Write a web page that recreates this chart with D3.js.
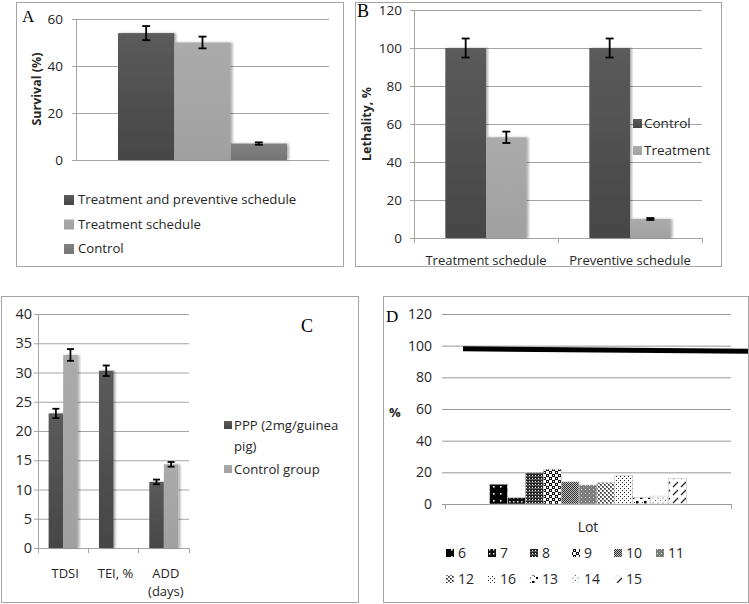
<!DOCTYPE html>
<html>
<head>
<meta charset="utf-8">
<script src="https://cdn.jsdelivr.net/npm/d3@7"></script>
<style>
body { margin: 0; background: #fff; }
text { font-family: "Open Sans", sans-serif; fill: #262626; }
</style>
</head>
<body>
<script>
// ---- data ----
// A
var aSeries = ["Treatment and preventive schedule", "Treatment schedule", "Control"];
var aValues = [54, 50, 7];
var aErrors = [3, 2.5, 0.5];
var aTicks = [0, 20, 40, 60];
// B
var bCategories = ["Treatment schedule", "Preventive schedule"];
var bSeries = ["Control", "Treatment"];
var bControl = [100, 100];
var bControlErr = [5, 5];
var bTreatment = [53, 10];
var bTreatmentErr = [3, 0.5];
var bTicks = [0, 20, 40, 60, 80, 100, 120];
// C
var cCategories = [["TDSI"], ["TEI, %"], ["ADD", "(days)"]];
var cSeries = [["PPP (2mg/guinea", "pig)"], ["Control group"]];
var cPPP = [23, 30.3, 11.3];
var cPPPErr = [0.8, 0.9, 0.4];
var cControl = [33, 0, 14.3];
var cControlErr = [1, 0, 0.4];
var cTicks = [0, 5, 10, 15, 20, 25, 30, 35, 40];
// D
var dLots = ["6", "7", "8", "9", "10", "11", "12", "16", "13", "14", "15"];
var dValues = [12.5, 4, 20, 22, 14, 12, 13.5, 18, 4, 5, 16];
var dLine = [98, 96.5];
var dTicks = [0, 20, 40, 60, 80, 100, 120];

var svg = d3.select("body").append("svg")
    .attr("width", 749)
    .attr("height", 604);
var defs = svg.append("defs");

// soft shadow for the bars (Excel look)
var shadow = defs.append("filter").attr("id", "shadow")
    .attr("x", "-10%").attr("y", "-10%").attr("width", "130%").attr("height", "120%");
shadow.append("feDropShadow")
    .attr("dx", 2).attr("dy", 0).attr("stdDeviation", 1.2)
    .attr("flood-color", "#000").attr("flood-opacity", 0.3);

function addGradient(id, top, bottom) {
    var g = defs.append("linearGradient").attr("id", id)
        .attr("x1", 0).attr("y1", 0).attr("x2", 0).attr("y2", 1);
    g.append("stop").attr("offset", "0%").attr("stop-color", top);
    g.append("stop").attr("offset", "100%").attr("stop-color", bottom);
    return "url(#" + id + ")";
}
var darkFill = addGradient("gDark", "#5b5b5b", "#464646");
var lightFill = addGradient("gLight", "#ababab", "#a0a0a0");
var midFill = addGradient("gMid", "#828282", "#747474");

function panelBox(x, y, w, h) {
    svg.append("rect")
        .attr("x", x + 0.5).attr("y", y + 0.5)
        .attr("width", w).attr("height", h)
        .attr("fill", "none")
        .attr("stroke", "#a5a5a5");
}

function panelLetter(txt, x, y, size) {
    svg.append("text")
        .attr("x", x).attr("y", y)
        .style("font-family", "'Liberation Serif', serif")
        .style("font-size", size + "px")
        .style("fill", "#000")
        .text(txt);
}

// y gridlines + labels; left = axis x, right = end of gridlines
function yAxisGrid(yScale, ticks, left, right, fontSize, pad, vertLine) {
    var g = svg.append("g")
        .attr("transform", "translate(" + left + ",0)")
        .call(d3.axisLeft(yScale).tickValues(ticks).tickSize(-(right - left)).tickSizeOuter(0).tickPadding(pad));
    g.select(".domain").remove();
    g.selectAll(".tick line")
        .attr("x1", -4)
        .attr("stroke", "#a5a5a5");
    g.selectAll(".tick text")
        .style("font-size", fontSize + "px")
        .style("font-family", "'Open Sans', sans-serif")
        .attr("fill", "#262626");
    if (vertLine) {
        svg.append("line")
            .attr("x1", left + 0.5).attr("x2", left + 0.5)
            .attr("y1", yScale(ticks[ticks.length - 1])).attr("y2", yScale(0))
            .attr("stroke", "#a5a5a5");
    }
    return g;
}

function xBaseTicks(positions, y) {
    svg.selectAll(null).data(positions).enter().append("line")
        .attr("x1", function (d) { return d + 0.5; })
        .attr("x2", function (d) { return d + 0.5; })
        .attr("y1", y).attr("y2", y + 5)
        .attr("stroke", "#a5a5a5");
}

function errorBar(x, yTop, yBot, cap) {
    var g = svg.append("g").attr("stroke", "#000").attr("stroke-width", 1.8);
    g.append("line").attr("x1", x).attr("x2", x).attr("y1", yTop).attr("y2", yBot);
    g.append("line").attr("x1", x - cap).attr("x2", x + cap).attr("y1", yTop).attr("y2", yTop);
    g.append("line").attr("x1", x - cap).attr("x2", x + cap).attr("y1", yBot).attr("y2", yBot);
}

// ================= Panel A =================
function drawA() {
    panelBox(16, 2, 327, 264);
    var y = d3.scaleLinear().domain([0, 60]).range([160, 19]);
    var x = d3.scaleBand().domain(aSeries).range([76, 329]).paddingOuter(0.745).paddingInner(0);
    yAxisGrid(y, aTicks, 76, 329, 13.5, 13, true);
    var fills = [darkFill, lightFill, midFill];

    svg.append("g").selectAll("rect").data(aValues).enter().append("rect")
        .attr("x", function (d, i) { return x(aSeries[i]); })
        .attr("y", function (d) { return y(d); })
        .attr("width", x.bandwidth())
        .attr("height", function (d) { return y(0) - y(d); })
        .attr("fill", function (d, i) { return fills[i]; })
        .attr("filter", "url(#shadow)");
    aValues.forEach(function (v, i) {
        errorBar(x(aSeries[i]) + x.bandwidth() / 2, y(v + aErrors[i]), y(v - aErrors[i]), 4);
    });

    svg.append("text")
        .attr("transform", "translate(41,89)rotate(-90)")
        .attr("text-anchor", "middle")
        .style("font-size", "12.5px")
        .style("font-weight", "bold")
        .text("Survival (%)");

    var leg = svg.append("g");
    aSeries.forEach(function (s, i) {
        leg.append("rect")
            .attr("x", 64).attr("y", 195 + i * 24.5)
            .attr("width", 10).attr("height", 10)
            .attr("fill", fills[i]);
        leg.append("text")
            .attr("x", 78).attr("y", 204 + i * 24.5)
            .style("font-size", "13.2px")
            .text(s);
    });
    panelLetter("A", 22, 22, 17);
}

// ================= Panel B =================
function drawB() {
    panelBox(355, 2, 366, 264);
    var y = d3.scaleLinear().domain([0, 120]).range([238, 10]);
    var x0 = d3.scaleBand().domain(bCategories).range([414, 702]);
    var x1 = d3.scaleBand().domain(bSeries).range([0, x0.bandwidth()]).paddingOuter(0.77).paddingInner(0);
    yAxisGrid(y, bTicks, 414, 702, 13.5, 12, true);
    svg.append("line")
        .attr("x1", 414).attr("x2", 702).attr("y1", 238.5).attr("y2", 238.5)
        .attr("stroke", "#a5a5a5");
    xBaseTicks([414, 558, 702], 238);

    var series = [
        {name: "Control", vals: bControl, errs: bControlErr, fill: darkFill},
        {name: "Treatment", vals: bTreatment, errs: bTreatmentErr, fill: lightFill}
    ];
    series.forEach(function (s) {
        svg.append("g").selectAll("rect").data(s.vals).enter().append("rect")
            .attr("x", function (d, i) { return x0(bCategories[i]) + x1(s.name); })
            .attr("y", function (d) { return y(d); })
            .attr("width", x1.bandwidth())
            .attr("height", function (d) { return y(0) - y(d); })
            .attr("fill", s.fill)
            .attr("filter", "url(#shadow)");
        s.vals.forEach(function (v, i) {
            errorBar(x0(bCategories[i]) + x1(s.name) + x1.bandwidth() / 2, y(v + s.errs[i]), y(v - s.errs[i]), 4);
        });
    });

    svg.selectAll(null).data(bCategories).enter().append("text")
        .attr("x", function (d) { return x0(d) + x0.bandwidth() / 2; })
        .attr("y", 265)
        .attr("text-anchor", "middle")
        .style("font-size", "13px")
        .text(function (d) { return d; });

    svg.append("text")
        .attr("transform", "translate(371,124)rotate(-90)")
        .attr("text-anchor", "middle")
        .style("font-size", "12.5px")
        .style("font-weight", "bold")
        .text("Lethality, %");

    series.forEach(function (s, i) {
        svg.append("rect")
            .attr("x", 633).attr("y", 119 + i * 27)
            .attr("width", 9).attr("height", 9)
            .attr("fill", s.fill);
        svg.append("text")
            .attr("x", 644).attr("y", 128 + i * 27)
            .style("font-size", "13.5px")
            .text(s.name);
    });
    panelLetter("B", 357, 17, 18);
}

// ================= Panel C =================
function drawC() {
    panelBox(1, 296, 357, 306);
    var y = d3.scaleLinear().domain([0, 40]).range([548, 314]);
    var x0 = d3.scaleBand().domain(d3.range(cCategories.length)).range([38, 189]);
    var x1 = d3.scaleBand().domain(["ppp", "ctl"]).range([0, x0.bandwidth()]).paddingOuter(0.73).paddingInner(0);
    yAxisGrid(y, cTicks, 38, 189, 14.5, 6, true);
    svg.append("line")
        .attr("x1", 38).attr("x2", 189).attr("y1", 548.5).attr("y2", 548.5)
        .attr("stroke", "#a5a5a5");
    xBaseTicks([38, 88, 138, 189], 548);

    var series = [
        {key: "ppp", vals: cPPP, errs: cPPPErr, fill: darkFill},
        {key: "ctl", vals: cControl, errs: cControlErr, fill: lightFill}
    ];
    series.forEach(function (s) {
        svg.append("g").selectAll("rect").data(s.vals).enter().append("rect")
            .attr("x", function (d, i) { return x0(i) + x1(s.key); })
            .attr("y", function (d) { return y(d); })
            .attr("width", x1.bandwidth())
            .attr("height", function (d) { return y(0) - y(d); })
            .attr("fill", s.fill)
            .attr("filter", "url(#shadow)");
        s.vals.forEach(function (v, i) {
            if (s.errs[i] > 0) {
                errorBar(x0(i) + x1(s.key) + x1.bandwidth() / 2, y(v + s.errs[i]), y(v - s.errs[i]), 3.5);
            }
        });
    });

    cCategories.forEach(function (lines, i) {
        lines.forEach(function (t, j) {
            svg.append("text")
                .attr("x", x0(i) + x0.bandwidth() / 2 + 2)
                .attr("y", 578 + j * 18)
                .attr("text-anchor", "middle")
                .style("font-size", "13px")
                .text(t);
        });
    });

    var fills = [darkFill, lightFill];
    var rowY = [430, 474];
    cSeries.forEach(function (lines, i) {
        svg.append("rect")
            .attr("x", 224).attr("y", rowY[i] - 9)
            .attr("width", 8).attr("height", 8)
            .attr("fill", fills[i]);
        lines.forEach(function (t, j) {
            svg.append("text")
                .attr("x", 234).attr("y", rowY[i] + j * 21)
                .style("font-size", "13.2px")
                .text(t);
        });
    });
    panelLetter("C", 301, 332, 18);
}

// ================= Panel D =================
function addPattern(id, size, bg, marks) {
    var p = defs.append("pattern").attr("id", id)
        .attr("patternUnits", "userSpaceOnUse")
        .attr("width", size).attr("height", size);
    p.append("rect").attr("width", size).attr("height", size).attr("fill", bg);
    marks.forEach(function (m) {
        if (m.line) {
            p.append("line").attr("x1", m.line[0]).attr("y1", m.line[1])
                .attr("x2", m.line[2]).attr("y2", m.line[3])
                .attr("stroke", m.c).attr("stroke-width", m.w || 1);
        } else {
            p.append("rect").attr("x", m[0]).attr("y", m[1])
                .attr("width", m[2]).attr("height", m[3]).attr("fill", m[4]);
        }
    });
    return "url(#" + id + ")";
}

function drawD() {
    panelBox(383, 296, 365, 306);
    var pats = {
        "6": addPattern("p6", 7, "#000", [[3, 3, 1.6, 1.6, "#fff"]]),
        "7": addPattern("p7", 4, "#111", [[1, 1, 1.5, 1.5, "#ddd"]]),
        "8": addPattern("p8", 3, "#222", [[1, 1, 1, 1, "#fff"], [0, 2, 3, 0.6, "#888"]]),
        "9": addPattern("p9", 6, "#fff", [[0, 0, 3, 3, "#111"], [3, 3, 3, 3, "#111"], [1, 1, 1, 1, "#fff"], [4, 4, 1, 1, "#fff"]]),
        "10": addPattern("p10", 2, "#bbb", [[0, 0, 1, 1, "#333"], [1, 1, 1, 1, "#333"]]),
        "11": addPattern("p11", 4, "#7a7a7a", [[1, 1, 1, 1, "#eee"], [3, 3, 1, 1, "#aaa"]]),
        "12": addPattern("p12", 4, "#fff", [[0, 0, 2, 2, "#777"], [2, 2, 2, 2, "#777"], [0, 0, 1, 1, "#333"], [2, 2, 1, 1, "#333"]]),
        "16": addPattern("p16", 4, "#fff", [[0, 0, 1, 1, "#222"], [2, 2, 1, 1, "#222"]]),
        "13": addPattern("p13", 8, "#fff", [[0, 1, 2.5, 2, "#000"], [4, 5, 2.5, 2.5, "#000"], [6, 0, 1, 1, "#444"], [2, 6, 1, 1, "#444"]]),
        "14": addPattern("p14", 5, "#fff", [[0, 0, 1, 1, "#555"], [2.5, 2.5, 1, 1, "#555"]]),
        "15": addPattern("p15", 8, "#fff", [{line: [1, 7, 6, 2], c: "#222", w: 1.3}])
    };

    var y = d3.scaleLinear().domain([0, 120]).range([504, 314]);
    var x = d3.scaleBand().domain(dLots).range([445, 731]).paddingOuter(2.5).paddingInner(0);
    var gAxis = yAxisGrid(y, dTicks, 445, 731, 14, 13, false);
    gAxis.selectAll(".tick line").attr("x1", -3).attr("stroke", "#999");
    svg.append("line")
        .attr("x1", 445).attr("x2", 731).attr("y1", 504.5).attr("y2", 504.5)
        .attr("stroke", "#999");
    xBaseTicks([445, 731], 504);

    svg.append("g").selectAll("rect").data(dValues).enter().append("rect")
        .attr("x", function (d, i) { return x(dLots[i]); })
        .attr("y", function (d) { return y(d); })
        .attr("width", x.bandwidth())
        .attr("height", function (d) { return y(0) - y(d); })
        .attr("fill", function (d, i) { return pats[dLots[i]]; })
        .attr("stroke", "#c8c8c8")
        .attr("stroke-width", 0.6);

    // the thick black series line, runs past the plot to the panel edge
    var xl = d3.scalePoint().domain([0, 1]).range([463, 748]);
    svg.append("path")
        .datum(dLine)
        .attr("d", d3.line().x(function (d, i) { return xl(i); }).y(function (d) { return y(d); }))
        .attr("stroke", "#000")
        .attr("stroke-width", 5)
        .attr("fill", "none");

    svg.append("text")
        .attr("x", 588).attr("y", 532)
        .attr("text-anchor", "middle")
        .style("font-size", "14px")
        .text("Lot");
    svg.append("text")
        .attr("x", 389).attr("y", 417)
        .style("font-size", "13px")
        .style("font-weight", "bold")
        .text("%");

    dLots.forEach(function (lot, i) {
        var col = i % 6, row = Math.floor(i / 6);
        var lx = 446 + col * 42, ly = 558 + row * 26;
        svg.append("rect")
            .attr("x", lx).attr("y", ly - 9)
            .attr("width", 8).attr("height", 8)
            .attr("fill", pats[lot]);
        svg.append("text")
            .attr("x", lx + 12).attr("y", ly)
            .style("font-size", "14px")
            .text(lot);
    });
    panelLetter("D", 386, 322, 17);
}

drawA();
drawB();
drawC();
drawD();
</script>
</body>
</html>
